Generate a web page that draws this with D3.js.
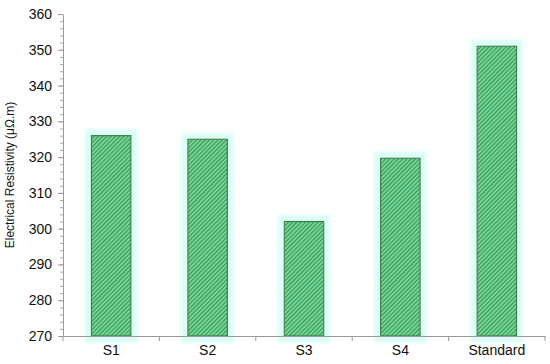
<!DOCTYPE html>
<html>
<head>
<script src="https://d3js.org/d3.v7.min.js"></script>
<style>
  body { margin: 0; background: #fff; }
  text { font-family: Arial, "Liberation Sans", sans-serif; }
</style>
</head>
<body>
<svg id="chart" width="550" height="364"></svg>
<script>
const categories = ["S1", "S2", "S3", "S4", "Standard"];
const resistivity = [326, 325, 302, 319.7, 351];
const yTicks = [270, 280, 290, 300, 310, 320, 330, 340, 350, 360];

const svg = d3.select("#chart");
const margin = { top: 14, right: 5, bottom: 28, left: 63 };
const width = 550 - margin.left - margin.right;
const height = 364 - margin.top - margin.bottom;

const defs = svg.append("defs");
const pat = defs.append("pattern")
    .attr("id", "hatch")
    .attr("patternUnits", "userSpaceOnUse")
    .attr("width", 3).attr("height", 3)
    .attr("patternTransform", "rotate(45)");
pat.append("rect").attr("width", 3).attr("height", 3).attr("fill", "#7fd79c");
pat.append("rect").attr("width", 1.2).attr("height", 3).attr("fill", "#2f9a55");

const glow = defs.append("filter").attr("id", "glow")
    .attr("x", "-50%").attr("y", "-20%").attr("width", "200%").attr("height", "140%");
glow.append("feMorphology").attr("in", "SourceAlpha").attr("operator", "dilate").attr("radius", 6).attr("result", "d");
glow.append("feGaussianBlur").attr("in", "d").attr("stdDeviation", 1.5).attr("result", "b");
glow.append("feFlood").attr("flood-color", "#dcfdf6");
glow.append("feComposite").attr("in2", "b").attr("operator", "in").attr("result", "g");
const merge = glow.append("feMerge");
merge.append("feMergeNode").attr("in", "g");
merge.append("feMergeNode").attr("in", "SourceGraphic");

const g = svg.append("g").attr("transform", `translate(${margin.left},${margin.top})`);

const x = d3.scaleBand().domain(categories).range([0, width]);
const y = d3.scaleLinear().domain([270, 360]).range([height, 0]);

const barW = 39.5;
g.selectAll(".bar")
    .data(categories)
    .join("rect")
    .attr("class", "bar")
    .attr("x", (d) => x(d) + x.bandwidth() / 2 - barW / 2)
    .attr("y", (d, i) => y(resistivity[i]))
    .attr("width", barW)
    .attr("height", (d, i) => height - y(resistivity[i]))
    .attr("fill", "url(#hatch)")
    .attr("stroke", "#3d7d45")
    .attr("stroke-width", 1.2)
    .attr("filter", "url(#glow)");

// minor ticks
const yMinor = g.append("g")
    .call(d3.axisLeft(y).tickValues(d3.range(270, 361, 2)).tickSize(3).tickFormat(""));
yMinor.select(".domain").remove();
yMinor.selectAll("line").attr("stroke", "#aaa");

const yAxis = g.append("g")
    .call(d3.axisLeft(y).tickValues(yTicks).tickSize(5).tickPadding(6).tickSizeOuter(0));
yAxis.select(".domain").attr("stroke", "#999");
yAxis.selectAll("line").attr("stroke", "#999");
yAxis.selectAll("text").attr("font-size", 14).attr("fill", "#111")
    .style("font-family", "Arial, 'Liberation Sans', sans-serif");

const xAxis = g.append("g")
    .attr("transform", `translate(0,${height})`)
    .call(d3.axisBottom(x).tickSize(0).tickPadding(9));
xAxis.select(".domain").attr("stroke", "#999");
xAxis.selectAll("text").attr("font-size", 14).attr("fill", "#111")
    .style("font-family", "Arial, 'Liberation Sans', sans-serif");

// band boundary ticks on the x axis
g.append("g").selectAll("line")
    .data(categories.concat(["end"]))
    .join("line")
    .attr("x1", (d, i) => i < categories.length ? x(d) : width)
    .attr("x2", (d, i) => i < categories.length ? x(d) : width)
    .attr("y1", height).attr("y2", height + 5)
    .attr("stroke", "#999");

svg.append("text")
    .attr("transform", `translate(14,${margin.top + height / 2}) rotate(-90)`)
    .attr("text-anchor", "middle")
    .attr("font-size", 12)
    .attr("fill", "#111")
    .text("Electrical Resistivity (μΩ.m)");
</script>
</body>
</html>
